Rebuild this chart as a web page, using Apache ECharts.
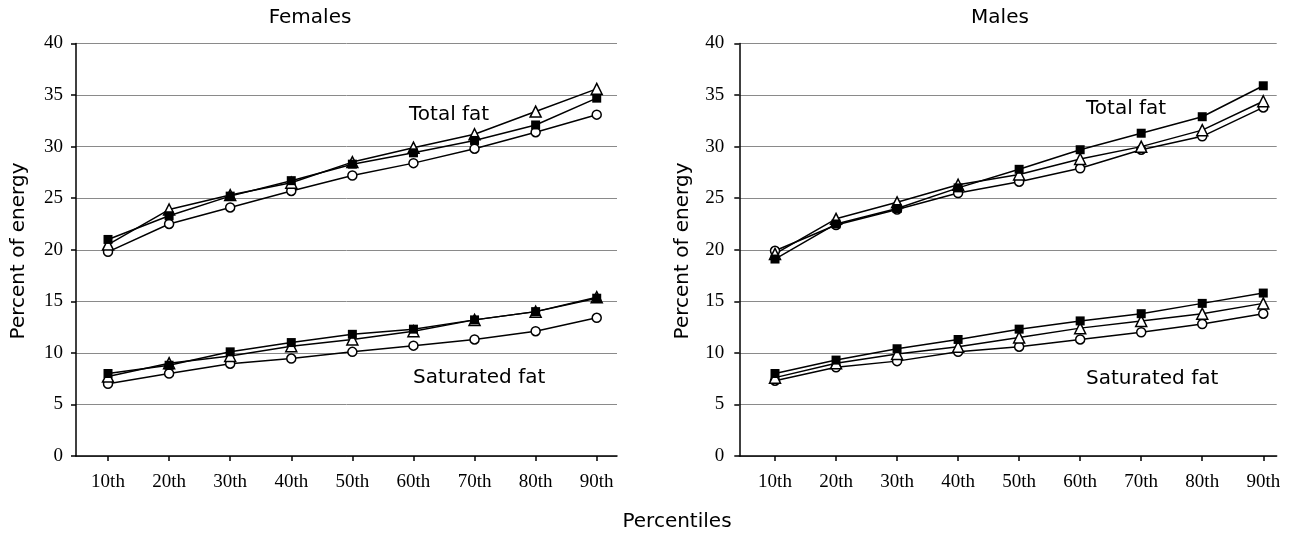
<!DOCTYPE html>
<html>
<head>
<meta charset="utf-8">
<script src="https://cdn.jsdelivr.net/npm/echarts@6/dist/echarts.min.js"></script>
<style>
html,body{margin:0;padding:0;background:#fff;}
#c{width:1290px;height:534px;}
</style>
</head>
<body>
<div id="c"></div>
<script>
// Categories / tick labels
const categories = ['10th','20th','30th','40th','50th','60th','70th','80th','90th'];
const yTicks = [0,5,10,15,20,25,30,35,40];

// Females – Total fat
const fTotalSquare   = [21.0, 23.3, 25.2, 26.7, 28.3, 29.4, 30.6, 32.1, 34.7];
const fTotalTriangle = [20.5, 23.9, 25.3, 26.5, 28.5, 29.9, 31.2, 33.4, 35.6];
const fTotalCircle   = [19.8, 22.5, 24.1, 25.7, 27.2, 28.4, 29.8, 31.4, 33.1];
// Females – Saturated fat
const fSatSquare   = [8.0, 8.8, 10.1, 11.0, 11.8, 12.3, 13.2, 14.0, 15.3];
const fSatTriangle = [7.7, 9.0, 9.7, 10.65, 11.3, 12.1, 13.2, 14.0, 15.4];
const fSatCircle   = [7.0, 8.0, 8.95, 9.45, 10.1, 10.7, 11.3, 12.1, 13.4];

// Males – Total fat
const mTotalSquare   = [19.1, 22.5, 24.0, 26.0, 27.8, 29.7, 31.3, 32.9, 35.9];
const mTotalTriangle = [19.6, 23.0, 24.6, 26.3, 27.3, 28.8, 30.0, 31.6, 34.4];
const mTotalCircle   = [19.9, 22.4, 23.9, 25.5, 26.6, 27.9, 29.7, 31.0, 33.8];
// Males – Saturated fat
const mSatSquare   = [8.0, 9.3, 10.4, 11.3, 12.3, 13.1, 13.8, 14.8, 15.8];
const mSatTriangle = [7.6, 9.0, 9.9, 10.6, 11.5, 12.4, 13.1, 13.8, 14.8];
const mSatCircle   = [7.3, 8.6, 9.2, 10.1, 10.6, 11.3, 12.0, 12.8, 13.8];

const catPos = categories.map((c,i)=>i+1);
const toXY = arr => arr.map((v,i)=>[i+1, v]);

const serifFont = '"Liberation Serif", "Times New Roman", serif';
const sansFont = '"DejaVu Sans", sans-serif';

function xAxisCfg(gridIndex, min, max){
  return {
    type:'value', gridIndex, min, max,
    axisLine:{show:true, onZero:false, lineStyle:{color:'#000', width:1.5}},
    axisTick:{show:true, customValues:catPos, length:5, lineStyle:{color:'#000', width:1.5}},
    axisLabel:{customValues:catPos, formatter:v=>categories[Math.round(v)-1] || '',
      color:'#000', fontFamily:serifFont, fontSize:19, margin:17},
    splitLine:{show:false}
  };
}
function yAxisCfg(gridIndex, margin){
  return {
    type:'value', gridIndex, min:0, max:40, interval:5,
    axisLine:{show:true, lineStyle:{color:'#000', width:1.5}},
    axisTick:{show:true, length:5, lineStyle:{color:'#000', width:1.5}},
    axisLabel:{color:'#000', fontFamily:serifFont, fontSize:19, margin:margin, padding:[14,0,0,0],
      customValues: yTicks},
    splitLine:{show:true, lineStyle:{color:'#8a8a8a', width:1}}
  };
}

const markerStyles = {
  circle:{symbol:'circle', symbolSize:9, itemStyle:{color:'#fff', borderColor:'#000', borderWidth:1.5}},
  triangle:{symbol:'triangle', symbolSize:11, itemStyle:{color:'#fff', borderColor:'#000', borderWidth:1.5}},
  square:{symbol:'rect', symbolSize:9, itemStyle:{color:'#000', borderColor:'#000', borderWidth:0}}
};
function line(name, data, idx, kind){
  const m = markerStyles[kind];
  return {
    name, type:'line', xAxisIndex:idx, yAxisIndex:idx, data:toXY(data),
    symbol:m.symbol, symbolSize:m.symbolSize, showAllSymbol:true,
    lineStyle:{color:'#000', width:1.5}, itemStyle:m.itemStyle,
    emphasis:{disabled:true}, animation:false, z:2
  };
}

const chart = echarts.init(document.getElementById('c'), null, {renderer:'canvas'});
chart.setOption({
  backgroundColor:'#fff',
  animation:false,
  grid:[
    {left:76, top:43.5, width:541, height:412.5},
    {left:739.3, top:43.5, width:537.4, height:412.5}
  ],
  xAxis:[ xAxisCfg(0, 0.476, 9.332), xAxisCfg(1, 0.415, 9.22) ],
  yAxis:[ yAxisCfg(0, 13), yAxisCfg(1, 15) ],
  series:[
    line('F total circle', fTotalCircle, 0, 'circle'),
    line('F sat circle', fSatCircle, 0, 'circle'),
    line('F total triangle', fTotalTriangle, 0, 'triangle'),
    line('F sat triangle', fSatTriangle, 0, 'triangle'),
    line('F total square', fTotalSquare, 0, 'square'),
    line('F sat square', fSatSquare, 0, 'square'),
    line('M total circle', mTotalCircle, 1, 'circle'),
    line('M sat circle', mSatCircle, 1, 'circle'),
    line('M total triangle', mTotalTriangle, 1, 'triangle'),
    line('M sat triangle', mSatTriangle, 1, 'triangle'),
    line('M total square', mTotalSquare, 1, 'square'),
    line('M sat square', mSatSquare, 1, 'square')
  ],
  graphic:[
    {type:'text', x:310, y:18, style:{text:'Females', font:'20px '+sansFont, fill:'#000', align:'center', verticalAlign:'middle'}},
    {type:'text', x:1000, y:18, style:{text:'Males', font:'20px '+sansFont, fill:'#000', align:'center', verticalAlign:'middle'}},
    {type:'text', x:19, y:251, rotation:Math.PI/2, style:{text:'Percent of energy', font:'20px '+sansFont, fill:'#000', align:'center', verticalAlign:'middle'}},
    {type:'text', x:683, y:251, rotation:Math.PI/2, style:{text:'Percent of energy', font:'20px '+sansFont, fill:'#000', align:'center', verticalAlign:'middle'}},
    {type:'text', x:677, y:522, style:{text:'Percentiles', font:'20px '+sansFont, fill:'#000', align:'center', verticalAlign:'middle'}},
    {type:'text', x:409, y:115, style:{text:'Total fat', font:'20px '+sansFont, fill:'#000', align:'left', verticalAlign:'middle'}},
    {type:'text', x:413, y:378, style:{text:'Saturated fat', font:'20px '+sansFont, fill:'#000', align:'left', verticalAlign:'middle'}},
    {type:'text', x:1086, y:109, style:{text:'Total fat', font:'20px '+sansFont, fill:'#000', align:'left', verticalAlign:'middle'}},
    {type:'text', x:1086, y:379, style:{text:'Saturated fat', font:'20px '+sansFont, fill:'#000', align:'left', verticalAlign:'middle'}}
  ]
});
</script>
</body>
</html>
